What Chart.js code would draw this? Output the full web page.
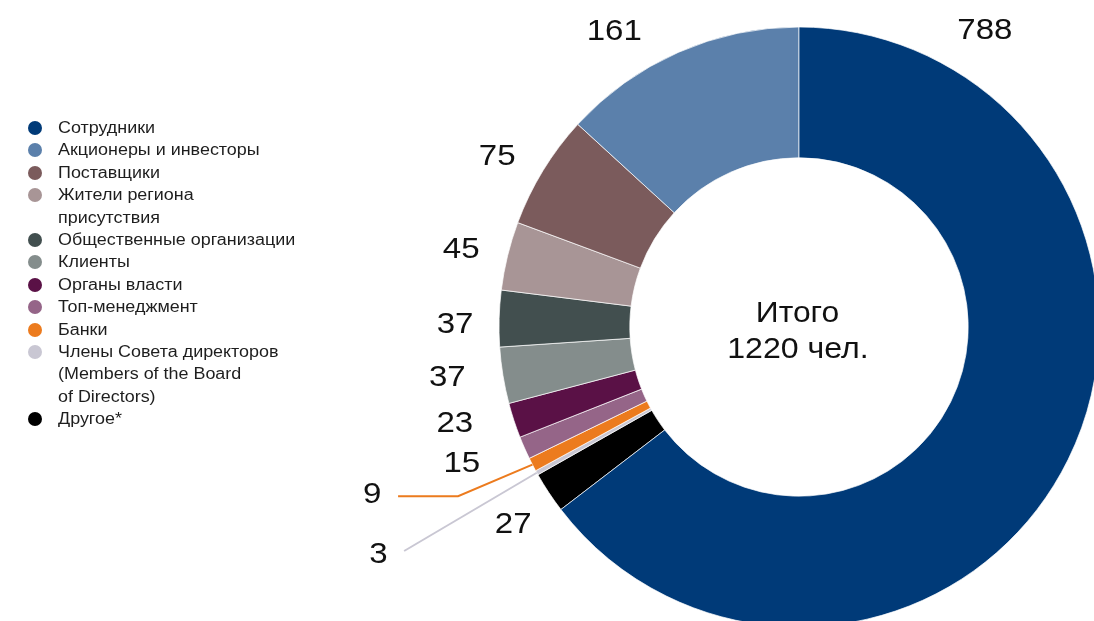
<!DOCTYPE html>
<html lang="ru">
<head>
<meta charset="utf-8">
<title>Заинтересованные стороны</title>
<script src="https://cdn.jsdelivr.net/npm/chart.js@4"></script>
<style>
  html, body { margin: 0; padding: 0; background: #ffffff; width: 1094px; height: 621px; overflow: hidden; }
  #wrap { position: absolute; left: 0; top: 0; width: 1110px; height: 640px; }
  #legend {
    position: absolute; left: 28px; top: 117px;
    font-family: "Liberation Sans", Arial, sans-serif; font-size: 16px; line-height: 22.4px;
    color: #1e1e1e; white-space: pre-line;
  }
  .item { position: relative; padding-left: 30px; }
  .dot { position: absolute; left: 0; top: 4px; width: 14px; height: 14px; border-radius: 50%; }
  .txt { display: inline-block; transform: scaleX(1.12); transform-origin: 0 50%; }
</style>
</head>
<body>
<div id="wrap"><canvas id="chart" width="1110" height="640"></canvas></div>
<div id="legend"></div>
<script>
// Stakeholder groups, in legend order
const categories = [
  'Сотрудники',
  'Акционеры и инвесторы',
  'Поставщики',
  'Жители региона\nприсутствия',
  'Общественные организации',
  'Клиенты',
  'Органы власти',
  'Топ-менеджмент',
  'Банки',
  'Члены Совета директоров\n(Members of the Board\nof Directors)',
  'Другое*'
];
const values = [788, 161, 75, 45, 37, 37, 23, 15, 9, 3, 27];
const colors = [
  '#003a78', '#5b80ab', '#7b5b5c', '#a89596', '#424f4f', '#848d8c',
  '#5a1146', '#956588', '#ec7b1e', '#c9c7d3', '#000000'
];
const centerTitle = 'Итого';
const centerUnit = 'чел.';

// Where each value label sits: angular nudge from the slice middle (deg) and distance from centre (px)
const labelPlacement = [
  { da: -84.4, r: 352 },
  { da: -8.1, r: 350 },
  { da: -1.7, r: 347.5 },
  { da: -0.5, r: 347 },
  { da: -0.8, r: 344 },
  { da: 1.5, r: 355 },
  { da: 2.75, r: 357 },
  { da: 2.0, r: 363 },
  { leader: 'elbow', da: 0.9, r: 380.6, run: 60, gap: 26 },
  { leader: 'straight', da: -0.5, r: 454, textDa: 0.9, textR: 477 },
  { da: -0.8, r: 346 }
];

const total = values.reduce((a, b) => a + b, 0);
const n = values.length;

// HTML legend
const legendEl = document.getElementById('legend');
categories.forEach((name, i) => {
  const item = document.createElement('div');
  item.className = 'item';
  const dot = document.createElement('span');
  dot.className = 'dot';
  dot.style.background = colors[i];
  const txt = document.createElement('span');
  txt.className = 'txt';
  txt.textContent = name;
  item.appendChild(dot);
  item.appendChild(txt);
  legendEl.appendChild(item);
});

// Slices run clockwise from the top in reverse legend order,
// so the first group ends up right of the top and the rest to its left.
const chartValues = values.slice().reverse();
const chartColors = colors.slice().reverse();
const chartLabels = categories.slice().reverse();
const rotation = -(total - values[0]) / total * 360;

const LABEL_SIZE = 29.5;
const LABEL_FONT = LABEL_SIZE + 'px "Liberation Sans", Arial, sans-serif';
const CAP = 0.716 * LABEL_SIZE;
const STRETCH = 1.12;

function wideText(ctx, text, x, y, sx) {
  ctx.save();
  ctx.translate(x, y);
  ctx.scale(sx, 1);
  ctx.fillText(text, 0, 0);
  ctx.restore();
}

const labelsPlugin = {
  id: 'sliceLabels',
  afterDatasetsDraw(chart) {
    const ctx = chart.ctx;
    const meta = chart.getDatasetMeta(0);
    ctx.save();
    ctx.font = LABEL_FONT;
    ctx.fillStyle = '#111111';
    ctx.textAlign = 'center';
    ctx.textBaseline = 'alphabetic';
    const rad = d => d * Math.PI / 180;
    meta.data.forEach((arc, j) => {
      const i = n - 1 - j;
      const p = arc.getProps(['x', 'y', 'startAngle', 'endAngle', 'outerRadius'], true);
      const mid = (p.startAngle + p.endAngle) / 2;
      const cfg = labelPlacement[i];
      const text = String(values[i]);
      if (cfg.leader) {
        const x0 = p.x + p.outerRadius * Math.cos(mid);
        const y0 = p.y + p.outerRadius * Math.sin(mid);
        const a = mid + rad(cfg.da);
        const x1 = p.x + cfg.r * Math.cos(a);
        const y1 = p.y + cfg.r * Math.sin(a);
        ctx.strokeStyle = colors[i];
        ctx.lineWidth = 2;
        ctx.beginPath();
        ctx.moveTo(x0, y0);
        ctx.lineTo(x1, y1);
        if (cfg.leader === 'elbow') {
          const x2 = x1 - cfg.run;
          ctx.lineTo(x2, y1);
          ctx.stroke();
          wideText(ctx, text, x2 - cfg.gap, y1 - 4 + CAP / 2, STRETCH);
        } else {
          ctx.stroke();
          const at = mid + rad(cfg.textDa);
          wideText(ctx, text, p.x + cfg.textR * Math.cos(at), p.y + cfg.textR * Math.sin(at) + CAP / 2, STRETCH);
        }
      } else {
        const a = mid + rad(cfg.da);
        wideText(ctx, text, p.x + cfg.r * Math.cos(a), p.y + cfg.r * Math.sin(a) + CAP / 2, STRETCH);
      }
    });
    // Total in the hole
    const c = meta.data[0].getProps(['x', 'y'], true);
    ctx.font = '30px "Liberation Sans", Arial, sans-serif';
    wideText(ctx, centerTitle, c.x - 1.5, c.y - 5, 1.06);
    wideText(ctx, total + ' ' + centerUnit, c.x - 1, c.y + 31, 1.07);
    ctx.restore();
  }
};

new Chart(document.getElementById('chart'), {
  type: 'doughnut',
  data: {
    labels: chartLabels,
    datasets: [{
      data: chartValues,
      backgroundColor: chartColors,
      borderColor: '#ffffff',
      borderWidth: 0.7,
      hoverOffset: 0
    }]
  },
  options: {
    responsive: false,
    devicePixelRatio: 1,
    animation: false,
    rotation: rotation,
    radius: 300,
    cutout: 169,
    layout: { padding: { left: 499, right: 11, top: 27, bottom: 13 } },
    plugins: {
      legend: { display: false },
      tooltip: { enabled: false }
    }
  },
  plugins: [labelsPlugin]
});
</script>
</body>
</html>
